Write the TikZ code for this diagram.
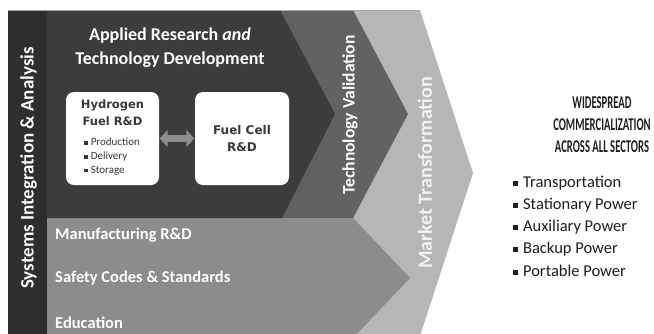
\documentclass[tikz,border=0pt]{standalone}
\usepackage{fontspec}
\setmainfont{Carlito}
\newfontfamily\boxfont{DejaVu Sans}
\usetikzlibrary{arrows.meta}
\definecolor{stripc}{HTML}{2E2E2E}
\definecolor{darkc}{HTML}{3C3C3C}
\definecolor{techc}{HTML}{626262}
\definecolor{botc}{HTML}{8C8C8C}
\definecolor{lightc}{HTML}{B6B6B6}
\definecolor{arrowc}{HTML}{8E8E8E}
\definecolor{boxtext}{HTML}{383838}
\definecolor{righttext}{HTML}{1E1E1E}
\definecolor{topline}{HTML}{A8A8A8}
\newcommand{\sqb}{\raisebox{0.22ex}{\rule{0.3em}{0.3em}}\hspace{0.3em}}
\newcommand{\narrow}[1]{\scalebox{0.59}[1]{#1}}
\tikzset{
  wbox/.style={fill=white, rounded corners=8pt, inner sep=0pt},
  vlabel/.style={rotate=90, text=white, font=\bfseries\fontsize{#1}{#1}\selectfont, inner sep=0pt},
  bandlabel/.style={anchor=west, text=white, font=\bfseries\fontsize{16.5}{18}\selectfont, inner sep=0pt},
  boxhead/.style={text=boxtext, font=\boxfont\bfseries\fontsize{11.5}{17}\selectfont, align=center, inner sep=0pt},
  boxitem/.style={anchor=west, text=boxtext, font=\fontsize{11}{13}\selectfont, inner sep=0pt},
  rightitem/.style={anchor=west, text=righttext, font=\fontsize{16.5}{18}\selectfont, inner sep=0pt},
}
\begin{document}
\begin{tikzpicture}[x=1pt,y=-1pt]
\useasboundingbox (0,0) rectangle (654,333);
\begin{scope}
\clip (0,0) rectangle (654,333);
% light chevron (Market Transformation)
\fill[lightc] (280,10) -- (420,10) -- (473,173) -- (420,336) -- (47,336) -- cycle;
% technology validation chevron
\fill[techc] (47,10) -- (353,10) -- (408,114) -- (353,218) -- (47,218) -- cycle;
% bottom band
\fill[botc] (47,218) -- (353,218) -- (410,278) -- (353,338) -- (47,338) -- cycle;
% dark chevron
\fill[darkc] (47,10) -- (280,10) -- (335,114) -- (282,218) -- (47,218) -- cycle;
% left strip
\fill[stripc] (8,10) rectangle (47,338);
\draw[topline, line width=0.8pt] (8,10.2) -- (420,10.2);
\end{scope}

\node[text=white, font=\bfseries\fontsize{18}{24}\selectfont, align=center, inner sep=0pt] (title) at (170,48) {Applied Research \textit{and}\\Technology Development};

\node[wbox, minimum width=93pt, minimum height=93pt] (h) at (112.5,138.5) {};
\node[wbox, minimum width=94pt, minimum height=93pt] (f) at (242,138.5) {};

\node[boxhead] (hhead) at (112.5,112.5) {Hydrogen\\Fuel R\&D};
\node[boxitem] (hi1) at (84,142) {\sqb Production};
\node[boxitem] (hi2) at (84,157) {\sqb Delivery};
\node[boxitem] (hi3) at (84,171) {\sqb Storage};
\node[boxhead, font=\boxfont\bfseries\fontsize{12}{17}\selectfont] (fhead) at (242,138.5) {Fuel Cell\\R\&D};

\draw[arrowc, line width=7pt, {Triangle[length=8pt,width=17pt]}-{Triangle[length=8pt,width=17pt]}] ([xshift=0.5pt]h.east) -- ([xshift=-0.5pt]f.west);

\node[vlabel=19] (sys) at (28.5,168) {Systems Integration \& Analysis};
\node[vlabel=17.5] (tv) at (350,115) {Technology Validation};
\node[vlabel=20, text=white!95!black] (mt) at (425,173) {Market Transformation};

\node[bandlabel] (b1) at (55,235) {Manufacturing R\&D};
\node[bandlabel] (b2) at (55,278) {Safety Codes \& Standards};
\node[bandlabel] (b3) at (55,323) {Education};

\node[text=righttext, font=\bfseries\fontsize{18}{22}\selectfont, align=center, inner sep=0pt] (goal) at (602,125) {\narrow{WIDESPREAD}\\\narrow{COMMERCIALIZATION}\\\narrow{ACROSS ALL SECTORS}};

\node[rightitem] (r1) at (513,183) {\sqb Transportation};
\node[rightitem] (r2) at (513,205) {\sqb Stationary Power};
\node[rightitem] (r3) at (513,227) {\sqb Auxiliary Power};
\node[rightitem] (r4) at (513,249) {\sqb Backup Power};
\node[rightitem] (r5) at (513,271) {\sqb Portable Power};
\end{tikzpicture}
\end{document}
